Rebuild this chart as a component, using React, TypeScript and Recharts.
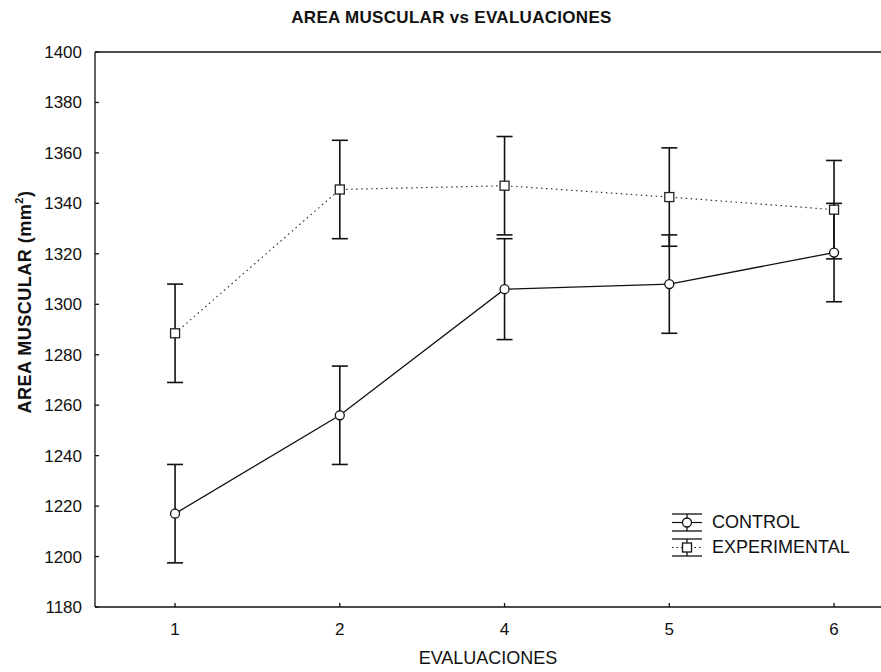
import React from 'react';
import { LineChart, Line, XAxis, YAxis, ErrorBar, ReferenceLine, Label } from 'recharts';

const categories = ['1', '2', '4', '5', '6'];
const controlValues = [1217, 1256, 1306, 1308, 1320.5];
const controlErrors = [19.5, 19.5, 20, 19.5, 19.5];
const experimentalValues = [1288.5, 1345.5, 1347, 1342.5, 1337.5];
const experimentalErrors = [19.5, 19.5, 19.5, 19.5, 19.5];
const yTicks = [1180, 1200, 1220, 1240, 1260, 1280, 1300, 1320, 1340, 1360, 1380, 1400];
const seriesNames = ['CONTROL', 'EXPERIMENTAL'];

const data = categories.map((c, i) => ({
  idx: i,
  label: c,
  control: controlValues[i],
  controlErr: controlErrors[i],
  experimental: experimentalValues[i],
  experimentalErr: experimentalErrors[i],
}));

const FONT = '"Liberation Sans", Arial, sans-serif';

const CircleDot = (props: any) => {
  const { cx, cy } = props;
  if (cx == null || cy == null) return null;
  return <circle cx={cx} cy={cy} r={4.5} fill="#fff" stroke="#111" strokeWidth={1.3} />;
};

const SquareDot = (props: any) => {
  const { cx, cy } = props;
  if (cx == null || cy == null) return null;
  return <rect x={cx - 4.5} y={cy - 4.5} width={9} height={9} fill="#fff" stroke="#222" strokeWidth={1.3} />;
};

const YLabel = () => {
  const x = 26;
  const y = 302;
  return (
    <text x={x} y={y} transform={`rotate(-90 ${x} ${y})`} textAnchor="middle" dominantBaseline="middle" fontFamily={FONT} fontSize={18} fontWeight="bold" letterSpacing={0.5} fill="#111">
      AREA MUSCULAR (mm<tspan baselineShift="super" fontSize={11}>2</tspan>)
    </text>
  );
};

const LegendBox = () => {
  const rows = [
    { name: seriesNames[0], shape: 'circle', dash: undefined },
    { name: seriesNames[1], shape: 'square', dash: '1.5 3' },
  ];
  return (
    <div style={{ position: 'absolute', left: 670, top: 510, fontFamily: FONT, fontSize: 18, color: '#111', lineHeight: '25px' }}>
      {rows.map((r) => (
        <div key={r.name} style={{ display: 'flex', alignItems: 'center', height: 25 }}>
          <svg width={40} height={25}>
            <line x1={2} y1={4} x2={32} y2={4} stroke="#111" strokeWidth={1.3} />
            <line x1={2} y1={21} x2={32} y2={21} stroke="#111" strokeWidth={1.3} />
            <line x1={2} y1={12.5} x2={32} y2={12.5} stroke="#111" strokeWidth={1.2} strokeDasharray={r.dash} />
            <line x1={17} y1={4} x2={17} y2={21} stroke="#111" strokeWidth={1.3} />
            {r.shape === 'circle' ? (
              <circle cx={17} cy={12.5} r={4.5} fill="#fff" stroke="#111" strokeWidth={1.3} />
            ) : (
              <rect x={12.5} y={8} width={9} height={9} fill="#fff" stroke="#111" strokeWidth={1.3} />
            )}
          </svg>
          <span style={{ marginLeft: 2 }}>{r.name}</span>
        </div>
      ))}
    </div>
  );
};

export default function App() {
  return (
    <div style={{ position: 'absolute', left: 0, top: 0, width: 881, height: 672, background: '#fff', overflow: 'hidden' }}>
      <div
        style={{
          position: 'absolute',
          left: 280,
          top: 8,
          width: 343,
          textAlign: 'center',
          fontFamily: FONT,
          fontSize: 17,
          fontWeight: 'bold',
          letterSpacing: 0.3,
          whiteSpace: 'nowrap',
          color: '#111',
          zIndex: 2,
        }}
      >
        AREA MUSCULAR vs EVALUACIONES
      </div>
      <LineChart width={881} height={672} data={data} margin={{ top: 52, right: 0, bottom: 0, left: 0 }}>
        <XAxis
          dataKey="idx"
          type="number"
          domain={[-0.486, 4.285]}
          allowDataOverflow
          ticks={[0, 1, 2, 3, 4]}
          tickFormatter={(v: number) => categories[v]}
          height={65}
          tickSize={-4}
          tickMargin={20}
          axisLine={{ stroke: '#111', strokeWidth: 1.3 }}
          tickLine={{ stroke: '#111', strokeWidth: 1.3 }}
          tick={{ fill: '#111', fontSize: 17, fontFamily: FONT }}
        >
          <Label value="EVALUACIONES" position="insideBottom" offset={8} fill="#111" fontSize={18} fontFamily={FONT} />
        </XAxis>
        <YAxis
          domain={[1180, 1400]}
          ticks={yTicks}
          width={95}
          tickSize={-4}
          tickMargin={17}
          axisLine={{ stroke: '#111', strokeWidth: 1.3 }}
          tickLine={{ stroke: '#111', strokeWidth: 1.3 }}
          tick={{ fill: '#111', fontSize: 17, fontFamily: FONT }}
          label={<YLabel />}
        />
        <ReferenceLine y={1400} stroke="#111" strokeWidth={1.3} ifOverflow="visible" />
        <Line
          type="linear"
          dataKey="experimental"
          name={seriesNames[1]}
          stroke="#333"
          strokeWidth={1.2}
          strokeDasharray="1.5 3.5"
          dot={<SquareDot />}
          activeDot={false}
          isAnimationActive={false}
        >
          <ErrorBar dataKey="experimentalErr" direction="y" width={8} stroke="#111" strokeWidth={1.6} />
        </Line>
        <Line
          type="linear"
          dataKey="control"
          name={seriesNames[0]}
          stroke="#111"
          strokeWidth={1.3}
          dot={<CircleDot />}
          activeDot={false}
          isAnimationActive={false}
        >
          <ErrorBar dataKey="controlErr" direction="y" width={8} stroke="#111" strokeWidth={1.6} />
        </Line>
      </LineChart>
      <LegendBox />
    </div>
  );
}
